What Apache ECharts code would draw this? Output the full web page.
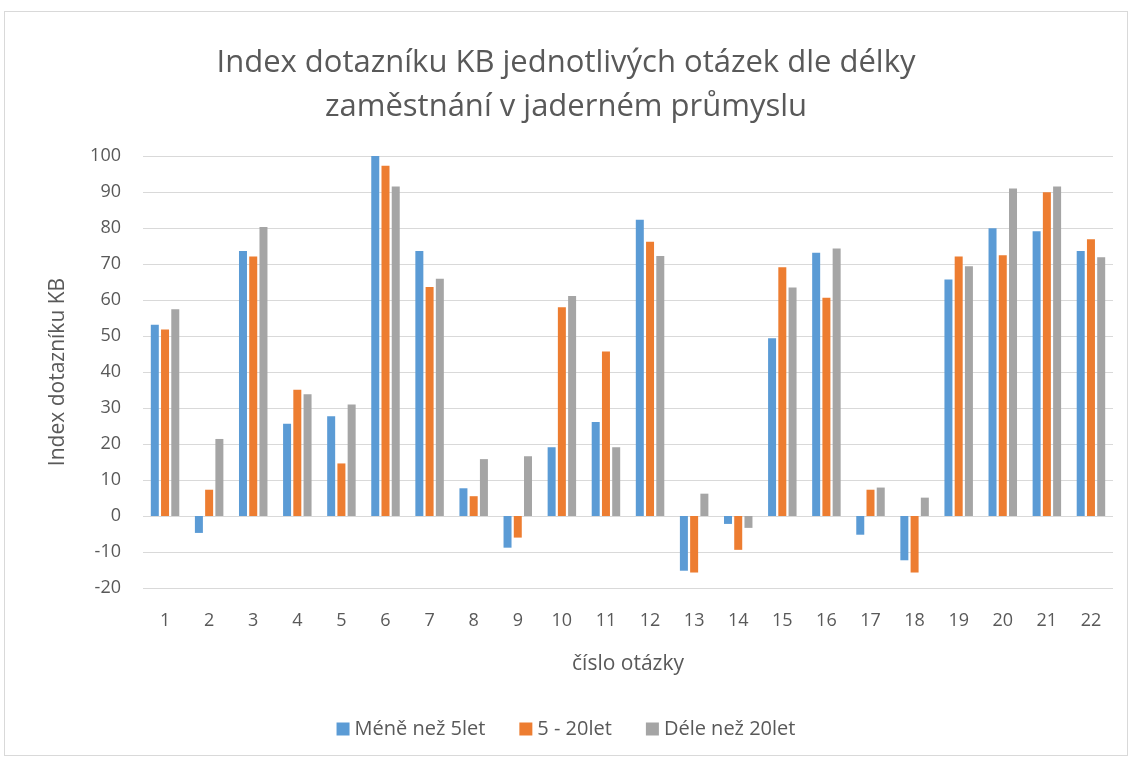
<!DOCTYPE html>
<html>
<head>
<meta charset="utf-8">
<script src="https://cdn.jsdelivr.net/npm/echarts@6/dist/echarts.min.js"></script>
<style>
  html, body { margin: 0; padding: 0; background: #fff; }
  #frame {
    position: absolute; left: 4px; top: 11px; width: 1124px; height: 745px;
    border: 1px solid #d9d9d9; box-sizing: border-box;
  }
  #chart { position: absolute; left: 0; top: 0; width: 1132px; height: 760px; }
</style>
</head>
<body>
<div id="frame"></div>
<div id="chart"></div>
<script>
const categories = ["1","2","3","4","5","6","7","8","9","10","11","12","13","14","15","16","17","18","19","20","21","22"];
const seriesNames = ["Méně než 5let", "5 - 20let", "Déle než 20let"];
const lessThan5 = [53.1, -4.7, 73.6, 25.6, 27.7, 100, 73.6, 7.7, -8.8, 19.1, 26.1, 82.3, -15.2, -2.2, 49.4, 73.1, -5.2, -12.3, 65.7, 79.9, 79.1, 73.6];
const from5to20 = [51.8, 7.3, 72.1, 35.1, 14.6, 97.3, 63.6, 5.5, -6.0, 58.0, 45.7, 76.2, -15.7, -9.4, 69.1, 60.6, 7.3, -15.7, 72.1, 72.4, 89.9, 76.9];
const over20 = [57.4, 21.4, 80.3, 33.8, 31.0, 91.5, 65.9, 15.8, 16.6, 61.1, 19.1, 72.2, 6.2, -3.3, 63.5, 74.3, 7.9, 5.1, 69.4, 91.0, 91.5, 71.9];
const colors = ["#5b9bd5", "#ed7d31", "#a5a5a5"];

const chart = echarts.init(document.getElementById("chart"));
const font = "'Open Sans', 'Liberation Sans', sans-serif";
const values = [lessThan5, from5to20, over20];

chart.setOption({
  animation: false,
  color: colors,
  title: {
    text: "Index dotazníku KB jednotlivých otázek dle délky\nzaměstnání v jaderném průmyslu",
    left: "center",
    top: 36,
    textStyle: {
      fontFamily: font,
      fontWeight: "normal",
      fontSize: 31,
      color: "#595959",
      lineHeight: 44,
    },
  },
  legend: {
    bottom: 16,
    left: "center",
    itemWidth: 13,
    itemHeight: 13,
    itemGap: 34,
    icon: "rect",
    textStyle: { fontFamily: font, fontSize: 20, color: "#595959" },
    data: seriesNames,
  },
  grid: { left: 143, right: 19, top: 156, bottom: 172 },
  xAxis: {
    type: "category",
    data: categories,
    name: "číslo otázky",
    nameLocation: "middle",
    nameGap: 66,
    nameTextStyle: { fontFamily: font, fontSize: 21, color: "#595959" },
    axisLine: { show: false, onZero: false },
    axisTick: { show: false },
    axisLabel: { fontFamily: font, fontSize: 18, color: "#595959", margin: 24 },
  },
  yAxis: {
    type: "value",
    min: -20,
    max: 100,
    interval: 10,
    name: "Index dotazníku KB",
    nameLocation: "middle",
    nameGap: 74,
    nameTextStyle: { fontFamily: font, fontSize: 21, color: "#595959" },
    axisLine: { show: false },
    axisTick: { show: false },
    axisLabel: { fontFamily: font, fontSize: 18, color: "#595959", margin: 22 },
    splitLine: { lineStyle: { color: "#d9d9d9", width: 1 } },
  },
  series: seriesNames.map((name, i) => ({
    name: name,
    type: "bar",
    data: values[i],
    barWidth: 8,
    barGap: "28%",
    itemStyle: { color: colors[i] },
  })),
});
</script>
</body>
</html>
